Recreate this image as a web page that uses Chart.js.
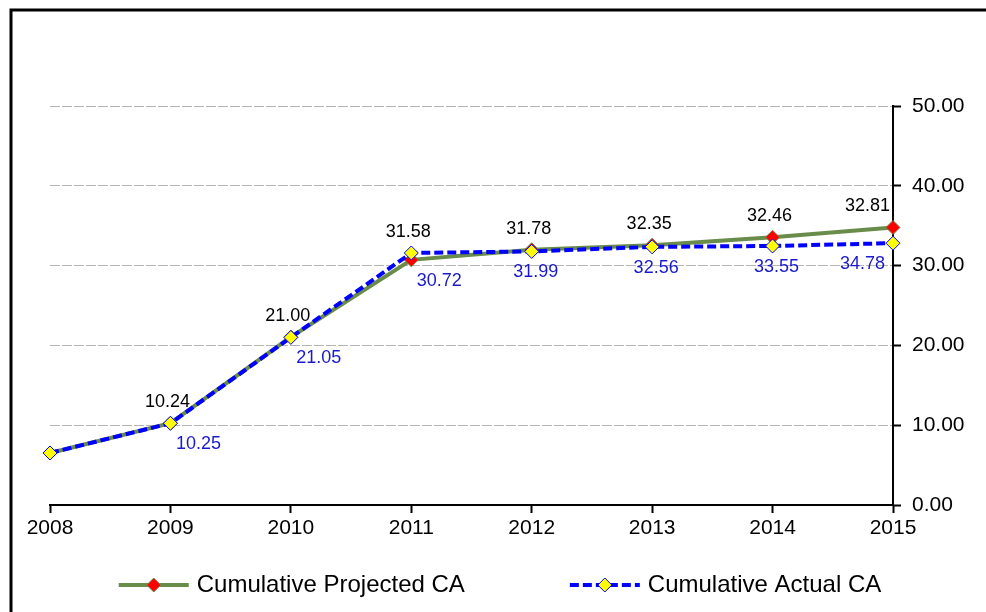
<!DOCTYPE html>
<html>
<head>
<meta charset="utf-8">
<script src="https://cdn.jsdelivr.net/npm/chart.js@4.4.1/dist/chart.umd.min.js"></script>
<style>
  body { margin: 0; background: #fff; }
  canvas { display: block; }
</style>
</head>
<body>
<canvas id="chart" width="986" height="612"></canvas>
<script>
//chart values
const years = ["2008", "2009", "2010", "2011", "2012", "2013", "2014", "2015"];
const projectedCA = [6.52, 10.25, 21.05, 30.72, 31.99, 32.56, 33.55, 34.78];
const actualCA = [6.52, 10.24, 21.0, 31.58, 31.78, 32.35, 32.46, 32.81];
const yTicks = [0, 10, 20, 30, 40, 50];
const seriesNames = ["Cumulative Projected CA", "Cumulative Actual CA"];

//colours and fonts
const green = "#6a8c4a";
const blue = "#0000ff";
const fontFamily = "'Liberation Sans', Arial, sans-serif";

//draws a small diamond, used for the legend samples
function diamond(ctx, x, y, r, fill, stroke) {
  ctx.beginPath();
  ctx.moveTo(x, y - r);
  ctx.lineTo(x + r, y);
  ctx.lineTo(x, y + r);
  ctx.lineTo(x - r, y);
  ctx.closePath();
  ctx.fillStyle = fill;
  ctx.fill();
  ctx.lineWidth = 1;
  ctx.strokeStyle = stroke;
  ctx.stroke();
}

//outer frame, value labels and the legend
const extras = {
  id: "extras",
  beforeDraw(chart) {
    const ctx = chart.ctx;
    ctx.save();
    ctx.strokeStyle = "#000";
    ctx.lineWidth = 3;
    ctx.beginPath();
    ctx.moveTo(11, chart.height);
    ctx.lineTo(11, 10);
    ctx.lineTo(chart.width, 10);
    ctx.stroke();
    ctx.restore();
  },
  afterDatasetsDraw(chart) {
    const ctx = chart.ctx;
    const proj = chart.getDatasetMeta(0).data;
    const act = chart.getDatasetMeta(1).data;
    const last = years.length - 1;
    ctx.save();
    ctx.font = "18px " + fontFamily;
    ctx.textBaseline = "middle";
    for (let i = 1; i < years.length; i++) {
      const p = proj[i];
      const a = act[i];
      const top = Math.min(p.y, a.y);
      const bottom = Math.max(p.y, a.y);

      //actual values above the points
      ctx.fillStyle = "#000";
      ctx.textAlign = i == last ? "right" : "center";
      ctx.fillText(actualCA[i].toFixed(2), a.x - 3, top - 21);

      //projected values below the points
      ctx.fillStyle = "#1a1acc";
      let dx = i <= 3 ? 28 : 4;
      ctx.textAlign = "center";
      if (i == last) {
        ctx.textAlign = "right";
        dx = -8;
      }
      ctx.fillText(projectedCA[i].toFixed(2), p.x + dx, bottom + 21);
    }

    //legend
    ctx.font = "24px " + fontFamily;
    ctx.textAlign = "left";
    const y = 585;
    const sample = 70;
    const gap = 8;
    const itemGap = 105;
    const w0 = sample + gap + ctx.measureText(seriesNames[0]).width;
    const w1 = sample + gap + ctx.measureText(seriesNames[1]).width;
    let x = chart.width / 2 + 7 - (w0 + itemGap + w1) / 2;

    ctx.lineWidth = 4;
    ctx.strokeStyle = green;
    ctx.beginPath();
    ctx.moveTo(x, y);
    ctx.lineTo(x + sample, y);
    ctx.stroke();
    diamond(ctx, x + sample / 2, y, 7, "#ff0000", green);
    ctx.fillStyle = "#000";
    ctx.fillText(seriesNames[0], x + sample + gap, y);

    x += w0 + itemGap;
    ctx.lineWidth = 4;
    ctx.strokeStyle = blue;
    ctx.setLineDash([9, 4]);
    ctx.beginPath();
    ctx.moveTo(x, y);
    ctx.lineTo(x + sample, y);
    ctx.stroke();
    ctx.setLineDash([]);
    diamond(ctx, x + sample / 2, y, 7, "#ffff00", blue);
    ctx.fillStyle = "#000";
    ctx.fillText(seriesNames[1], x + sample + gap, y);
    ctx.restore();
  }
};

const ctx = document.getElementById("chart").getContext("2d");
const myChart = new Chart(ctx, {
  type: "line",
  data: {
    labels: years,
    datasets: [
      {
        label: seriesNames[0],
        data: projectedCA,
        borderColor: green,
        borderWidth: 4,
        pointStyle: "rectRot",
        pointRadius: 7,
        pointBackgroundColor: "#ff0000",
        pointBorderColor: green,
        pointBorderWidth: 1,
        tension: 0,
        clip: false,
        order: 1,
      },
      {
        label: seriesNames[1],
        data: actualCA,
        borderColor: blue,
        borderWidth: 4,
        borderDash: [9, 4],
        pointStyle: "rectRot",
        pointRadius: 7,
        pointBackgroundColor: "#ffff00",
        pointBorderColor: blue,
        pointBorderWidth: 1,
        tension: 0,
        clip: false,
        order: 0,
      },
    ],
  },
  options: {
    responsive: false,
    animation: false,
    devicePixelRatio: 1,
    layout: { padding: { left: 50, top: 106, right: 0, bottom: 0 } },
    plugins: {
      legend: { display: false },
      tooltip: { enabled: false },
    },
    scales: {
      x: {
        offset: false,
        border: { color: "#000", width: 2 },
        grid: {
          drawOnChartArea: false,
          tickLength: 8,
          tickColor: "#000",
          tickWidth: 2,
        },
        ticks: {
          color: "#000",
          font: { family: fontFamily, size: 21 },
          padding: 3,
          maxRotation: 0,
          autoSkip: false,
        },
        afterFit: (s) => { s.height = 107; },
      },
      y: {
        position: "right",
        min: 0,
        max: 50,
        afterBuildTicks: (s) => { s.ticks = yTicks.map((v) => ({ value: v })); },
        border: { color: "#000", width: 2, dash: [10, 2] },
        grid: {
          color: (c) => (c.tick && c.tick.value == 0 ? "rgba(0,0,0,0)" : "#b4b4b4"),
          lineWidth: 1,
          tickLength: 8,
          tickColor: "#000",
          tickWidth: 2,
        },
        ticks: {
          color: "#000",
          font: { family: fontFamily, size: 21 },
          padding: 11,
          callback: (v) => Number(v).toFixed(2),
        },
        afterFit: (s) => { s.width = 93; },
      },
    },
  },
  plugins: [extras],
});
</script>
</body>
</html>
